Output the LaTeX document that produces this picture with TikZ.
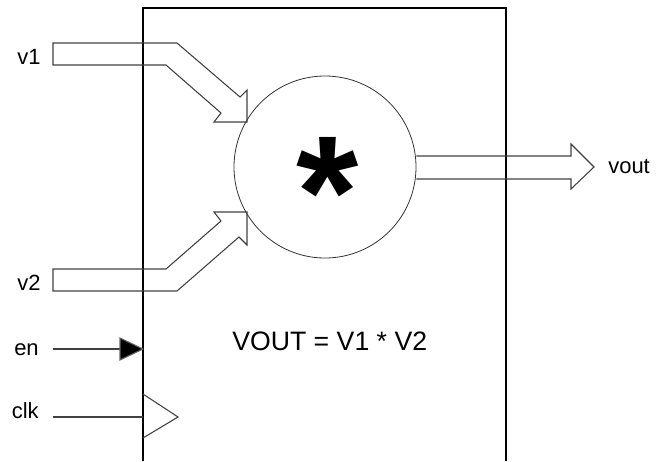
\documentclass[tikz,border=0pt]{standalone}
\usepackage{fontspec}
\setmainfont{Liberation Sans}
\usetikzlibrary{positioning,calc}

\begin{document}
\begin{tikzpicture}[
  x=0.75pt, y=-0.75pt,
  wire/.style={draw=black!75, line width=0.8pt, line join=miter},
  pin/.style={font=\fontsize{16.5}{18}\selectfont, inner sep=0pt, anchor=base east},
  mulop/.style={draw=black!80, circle, minimum size=136.5pt, inner sep=0pt, line width=0.6pt}
]
  \useasboundingbox (0,0) rectangle (664,461);

  %% Block outline (runs off the bottom)
  \draw[line width=0.8pt] (143,461) -- (143,8) -- (506,8) -- (506,461);

  %% Multiplier
  \node[mulop] (mul) at (325,167) {};
  \node[font=\fontsize{120}{120}\selectfont\bfseries, inner sep=0pt] (star) at (328,192) {*};
  \node[font=\fontsize{20}{24}\selectfont, inner sep=0pt, anchor=base west] (eqn) at (232,350) {VOUT = V1 * V2};

  %% Input v1
  \node[pin] (v1) at (41,64) {v1};
  \draw[wire] (53,43) -- (177,43) -- (240,97) -- (247,90) -- (247,122) -- (214,122) -- (221,113) -- (166,65) -- (53,65) -- cycle;

  %% Input v2
  \node[pin] (v2) at (41,290) {v2};
  \draw[wire] (53,291) -- (177,291) -- (239,237) -- (247,245) -- (247,212) -- (214,212) -- (221,221) -- (166,269) -- (53,269) -- cycle;

  %% Output vout
  \node[pin, anchor=base west] (vout) at (608,173) {vout};
  \draw[wire] (mul.east |- 0,156) -- (571,156) -- (571,144) -- (594,167) -- (571,189) -- (571,179) -- (mul.east |- 0,179);

  %% Enable
  \node[pin] (en) at (39,355) {en};
  \coordinate (enpt) at (143,349);
  \draw[wire] (53,349) -- (120,349);
  \draw[draw=black!60, fill=black, line width=0.8pt] (120,338) -- (enpt) -- (120,360) -- cycle;

  %% Clock
  \node[pin] (clk) at (39,418) {clk};
  \coordinate (clkpt) at (143,417);
  \draw[wire] (53,417) -- (clkpt);
  \draw[wire] (143,394) -- (178,417) -- (143,438);
\end{tikzpicture}
\end{document}
